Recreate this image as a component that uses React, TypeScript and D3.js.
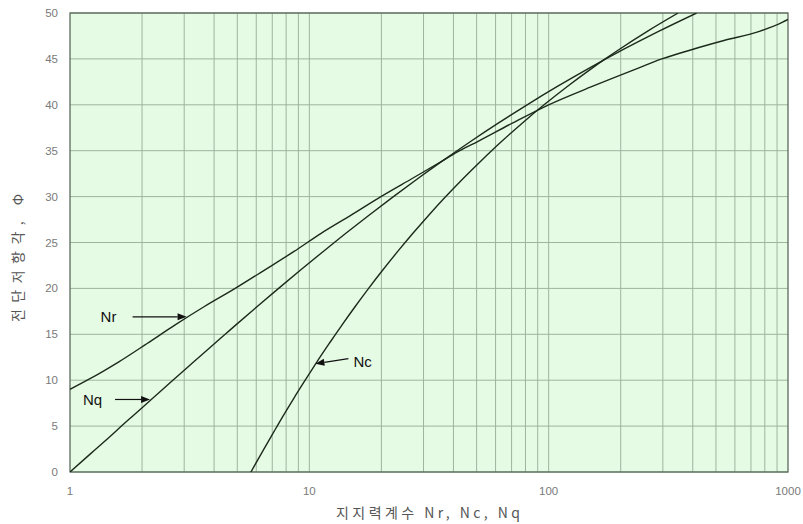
import * as d3 from "d3";

// bearing capacity factors vs friction angle
const phiCQ = [0, 2, 4, 5, 6, 8, 10, 12, 14, 15, 16, 18, 20, 22, 24, 25, 26, 28, 30, 32, 34, 35, 36, 38, 40, 42, 44, 45, 46, 48, 50];
const ncValues = [5.7, 6.3, 6.97, 7.34, 7.73, 8.6, 9.61, 10.76, 12.11, 12.86, 13.68, 15.52, 17.69, 20.27, 23.36, 25.13, 27.09, 31.61, 37.16, 44.04, 52.64, 57.75, 63.53, 77.5, 95.66, 119.67, 151.95, 172.28, 196.22, 258.28, 347.5];
const nqValues = [1.0, 1.22, 1.49, 1.64, 1.81, 2.21, 2.69, 3.29, 4.02, 4.45, 4.92, 6.04, 7.44, 9.19, 11.4, 12.72, 14.21, 17.81, 22.46, 28.52, 36.5, 41.44, 47.16, 61.55, 81.27, 108.75, 147.74, 173.28, 204.19, 287.85, 415.14];

const phiR = [9, 10, 11, 12, 14, 16, 18, 20, 22, 24, 26, 28, 30, 32, 34, 35, 36, 38, 40, 42, 44, 45, 46, 47, 48, 49, 49.3];
const nrValues = [1.0, 1.18, 1.38, 1.6, 2.1, 2.74, 3.63, 4.9, 6.5, 8.6, 11.2, 15.0, 19.9, 27.0, 36.6, 42.5, 50.5, 70.5, 100, 152, 237, 297, 395, 540, 760, 950, 1000];

const xTicks = [1, 10, 100, 1000];
const yTicks = [0, 5, 10, 15, 20, 25, 30, 35, 40, 45, 50];

// label anchors: point on the curve where the arrow ends
const labelNames = ["Nr", "Nq", "Nc"];
const labelN = [3.07, 2.16, 10.6];
const labelPhi = [16.9, 7.9, 11.8];

const W = 803;
const H = 524;
const M = { left: 70, right: 15, top: 13, bottom: 52 };

export default function App() {
  const x = d3.scaleLog().domain([1, 1000]).range([M.left, W - M.right]);
  const y = d3.scaleLinear().domain([0, 50]).range([H - M.bottom, M.top]);

  const minor: number[] = [];
  for (let p = 0; p < 3; p++) {
    for (let k = 2; k <= 9; k++) minor.push(k * Math.pow(10, p));
  }

  const line = d3
    .line<[number, number]>()
    .x((d) => x(d[0]))
    .y((d) => y(d[1]))
    .curve(d3.curveMonotoneX);

  const series = [
    ncValues.map((n, i) => [n, phiCQ[i]] as [number, number]),
    nqValues.map((n, i) => [n, phiCQ[i]] as [number, number]),
    nrValues.map((n, i) => [n, phiR[i]] as [number, number]),
  ];

  const gridColor = "#9db49d";
  const tickFont = "'Liberation Sans', Arial, sans-serif";
  const korFont = "'Noto Sans CJK KR', sans-serif";

  // arrow tail offsets and text placement for each label
  const arrowOff = [
    { dx: -54, dy: 0, tx: -86, ty: 5 },
    { dx: -35, dy: 0, tx: -67, ty: 6 },
    { dx: 33, dy: -5, tx: 38, ty: 3 },
  ];

  return (
    <svg width={W} height={H} style={{ display: "block", position: "fixed", left: 0, top: 0 }}>
      <defs>
        <clipPath id="plot">
          <rect x={M.left} y={M.top} width={W - M.right - M.left} height={H - M.bottom - M.top} />
        </clipPath>
      </defs>
      <rect width={W} height={H} fill="#fff" />
      <rect
        x={M.left}
        y={M.top}
        width={W - M.right - M.left}
        height={H - M.bottom - M.top}
        fill="#e6fbe4"
      />
      {yTicks.map((t) => (
        <line key={"h" + t} x1={M.left} x2={W - M.right} y1={y(t)} y2={y(t)} stroke={gridColor} strokeWidth={1} />
      ))}
      {minor.concat([10, 100]).map((t) => (
        <line key={"v" + t} x1={x(t)} x2={x(t)} y1={M.top} y2={H - M.bottom} stroke={gridColor} strokeWidth={1} />
      ))}
      <rect
        x={M.left}
        y={M.top}
        width={W - M.right - M.left}
        height={H - M.bottom - M.top}
        fill="none"
        stroke="#4f5f4f"
        strokeWidth={1.2}
      />
      <g clipPath="url(#plot)">
        {series.map((s, i) => (
          <path key={i} d={line(s) || ""} fill="none" stroke="#1c2a1c" strokeWidth={1.4} />
        ))}
      </g>
      {yTicks.map((t) => (
        <text
          key={"yl" + t}
          x={58}
          y={y(t) + 4}
          textAnchor="end"
          fontFamily={tickFont}
          fontSize={11.5}
          fill="#7a7a7a"
        >
          {t}
        </text>
      ))}
      {xTicks.map((t) => (
        <text
          key={"xl" + t}
          x={x(t)}
          y={495}
          textAnchor="middle"
          fontFamily={tickFont}
          fontSize={11.5}
          fill="#7a7a7a"
        >
          {t}
        </text>
      ))}
      <text
        x={428}
        y={518}
        textAnchor="middle"
        fontFamily={korFont}
        fontSize={14}
        fill="#555"
        textLength={184}
        lengthAdjust="spacing"
      >
        지지력계수 Nr, Nc, Nq
      </text>
      <text
        transform="translate(23,258) rotate(-90)"
        textAnchor="middle"
        fontFamily={korFont}
        fontSize={14}
        fill="#555"
        textLength={128}
        lengthAdjust="spacing"
      >
        전단저항각, Φ
      </text>
      {labelNames.map((name, i) => {
        const px = x(labelN[i]);
        const py = y(labelPhi[i]);
        const o = arrowOff[i];
        const tx0 = px + o.dx;
        const ty0 = py + o.dy;
        const ang = Math.atan2(py - ty0, px - tx0);
        const hl = 9;
        const hw = 3.5;
        const bx = px - hl * Math.cos(ang);
        const by = py - hl * Math.sin(ang);
        const head = `M${px},${py} L${bx - hw * Math.sin(ang)},${by + hw * Math.cos(ang)} L${bx + hw * Math.sin(ang)},${by - hw * Math.cos(ang)} Z`;
        return (
          <g key={name}>
            <line x1={tx0} y1={ty0} x2={bx} y2={by} stroke="#111" strokeWidth={1.2} />
            <path d={head} fill="#111" />
            <text x={px + o.tx} y={py + o.ty} fontFamily={tickFont} fontSize={15} fill="#111">
              {name}
            </text>
          </g>
        );
      })}
    </svg>
  );
}
